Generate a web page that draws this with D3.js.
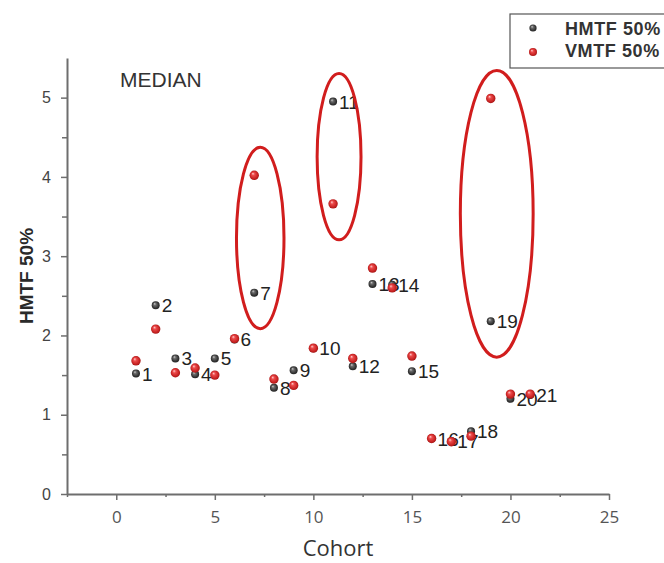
<!DOCTYPE html>
<html>
<head>
<meta charset="utf-8">
<script src="https://cdn.jsdelivr.net/npm/d3@7"></script>
<style>
  body { margin: 0; background: #fff; }
  svg { display: block; }
</style>
</head>
<body>
<svg id="chart" width="664" height="563"></svg>
<script>
// Cohort numbers and median MTF50 values per cohort
const cohorts = [1, 2, 3, 4, 5, 6, 7, 8, 9, 10, 11, 12, 13, 14, 15, 16, 17, 18, 19, 20, 21];
const hmtf = [1.52, 2.38, 1.71, 1.51, 1.71, 1.95, 2.54, 1.34, 1.56, 1.84, 4.95, 1.61, 2.65, 2.64, 1.55, 0.70, 0.67, 0.79, 2.18, 1.20, 1.25];
const vmtf = [1.68, 2.08, 1.53, 1.59, 1.50, 1.96, 4.02, 1.45, 1.37, 1.84, 3.66, 1.71, 2.85, 2.60, 1.74, 0.70, 0.66, 0.73, 4.99, 1.26, 1.26];
// Cohorts singled out with an outline
const circled = [7, 11, 19];

const xTicks = [0, 5, 10, 15, 20, 25];
const xMinorTicks = [-2.5, 2.5, 7.5, 12.5, 17.5, 22.5];
const yTicks = [0, 1, 2, 3, 4, 5];
const yMinorTicks = [0.5, 1.5, 2.5, 3.5, 4.5];
const seriesNames = ["HMTF 50%", "VMTF 50%"];
const xTitle = "Cohort";
const yTitle = "HMTF 50%";
const note = "MEDIAN";

const svg = d3.select("#chart");
const x = d3.scaleLinear().domain([-2.5, 25]).range([67, 609]);
const y = d3.scaleLinear().domain([0, 5.5]).range([494, 58]);

// Sphere-like marker fills
const defs = svg.append("defs");
function ball(id, stops) {
  const g = defs.append("radialGradient").attr("id", id)
    .attr("cx", "50%").attr("cy", "50%").attr("r", "55%")
    .attr("fx", "35%").attr("fy", "30%");
  stops.forEach(([o, c]) => g.append("stop").attr("offset", o).attr("stop-color", c));
}
ball("ballDark", [[0, "#d0d0d0"], [0.3, "#6a6a6a"], [0.75, "#333"], [1, "#1c1c1c"]]);
ball("ballRed", [[0, "#ffd2d2"], [0.3, "#ec4b4b"], [0.75, "#c62222"], [1, "#9a1212"]]);

const axisColor = "#6e6e6e";
const tickFont = "'Open Sans', 'DejaVu Sans', sans-serif";
const plainFont = "'Liberation Sans', Arial, sans-serif";

// X axis: minor then major ticks
svg.append("g").attr("transform", `translate(0,${y(0)})`)
  .call(d3.axisBottom(x).tickValues(xMinorTicks).tickSize(3).tickSizeOuter(0).tickFormat(""))
  .call(g => g.select(".domain").remove())
  .call(g => g.selectAll("line").attr("stroke", axisColor).attr("stroke-width", 1.5));
const xAxis = svg.append("g").attr("transform", `translate(0,${y(0)})`)
  .call(d3.axisBottom(x).tickValues(xTicks).tickSize(6).tickSizeOuter(0).tickPadding(11)
    .tickFormat(d3.format("d")));
xAxis.select(".domain").attr("stroke", axisColor).attr("stroke-width", 2);
xAxis.selectAll("line").attr("stroke", axisColor).attr("stroke-width", 1.5);
xAxis.selectAll("text").attr("fill", "#555").style("font-family", tickFont).style("font-size", "17px");

// Y axis
svg.append("g").attr("transform", `translate(${x(-2.5)},0)`)
  .call(d3.axisLeft(y).tickValues(yMinorTicks).tickSize(5).tickSizeOuter(0).tickFormat(""))
  .call(g => g.select(".domain").remove())
  .call(g => g.selectAll("line").attr("stroke", axisColor).attr("stroke-width", 1.5));
const yAxis = svg.append("g").attr("transform", `translate(${x(-2.5)},0)`)
  .call(d3.axisLeft(y).tickValues(yTicks).tickSize(6).tickSizeOuter(0).tickPadding(10)
    .tickFormat(d3.format("d")));
yAxis.select(".domain").attr("stroke", axisColor).attr("stroke-width", 2);
yAxis.selectAll("line").attr("stroke", axisColor).attr("stroke-width", 1.5);
yAxis.selectAll("text").attr("fill", "#444").style("font-family", plainFont).style("font-size", "16px");

// Axis titles
svg.append("text").attr("x", (x(-2.5) + x(25)) / 2).attr("y", 556)
  .attr("text-anchor", "middle").attr("fill", "#333")
  .style("font-family", tickFont).style("font-size", "22px").text(xTitle);
svg.append("text").attr("transform", `translate(33,${(y(0) + y(5.5)) / 2}) rotate(-90)`)
  .attr("text-anchor", "middle").attr("fill", "#2a2a2a")
  .style("font-family", plainFont).style("font-size", "19px").style("font-weight", "bold").text(yTitle);

// Annotation
svg.append("text").attr("x", 120).attr("y", 87).attr("fill", "#333")
  .style("font-family", plainFont).style("font-size", "21px").text(note);

const rows = cohorts.map((c, i) => ({ c, h: hmtf[i], v: vmtf[i] }));

// HMTF points and their cohort labels
svg.append("g").selectAll("circle").data(rows).join("circle")
  .attr("cx", d => x(d.c)).attr("cy", d => y(d.h)).attr("r", 4)
  .attr("fill", "url(#ballDark)");
svg.append("g").selectAll("text").data(rows).join("text")
  .attr("x", d => x(d.c) + 6).attr("y", d => y(d.h) + 7)
  .attr("fill", "#222").style("font-family", plainFont).style("font-size", "19px")
  .text(d => d.c);

// VMTF points
svg.append("g").selectAll("circle").data(rows).join("circle")
  .attr("cx", d => x(d.c)).attr("cy", d => y(d.v)).attr("r", 4.7)
  .attr("fill", "url(#ballRed)");

// Outlines around the circled cohorts, spanning both of their values
svg.append("g").selectAll("ellipse").data(rows.filter(d => circled.includes(d.c))).join("ellipse")
  .each(function (d) {
    const top = Math.min(y(d.h), y(d.v));
    const bot = Math.max(y(d.h), y(d.v));
    const ry = (bot - top) / 2 + 32;
    d3.select(this)
      .attr("cx", x(d.c) + 6).attr("cy", (top + bot) / 2 + 4)
      .attr("ry", ry).attr("rx", ry * 0.24 + 2);
  })
  .attr("fill", "none").attr("stroke", "#d11d1d").attr("stroke-width", 3);

// Legend
const legend = svg.append("g");
legend.append("rect").attr("x", 510).attr("y", 14).attr("width", 170).attr("height", 54)
  .attr("fill", "#fff").attr("stroke", "#555").attr("stroke-width", 1.2);
seriesNames.forEach((name, i) => {
  legend.append("circle").attr("cx", 533).attr("cy", 28 + i * 24).attr("r", i ? 4 : 3.6)
    .attr("fill", i ? "url(#ballRed)" : "url(#ballDark)");
  legend.append("text").attr("x", 565).attr("y", 35 + i * 22)
    .attr("fill", "#333").style("font-family", plainFont).style("font-size", "18px")
    .style("font-weight", "bold").style("letter-spacing", "0.6px").text(name);
});
</script>
</body>
</html>
